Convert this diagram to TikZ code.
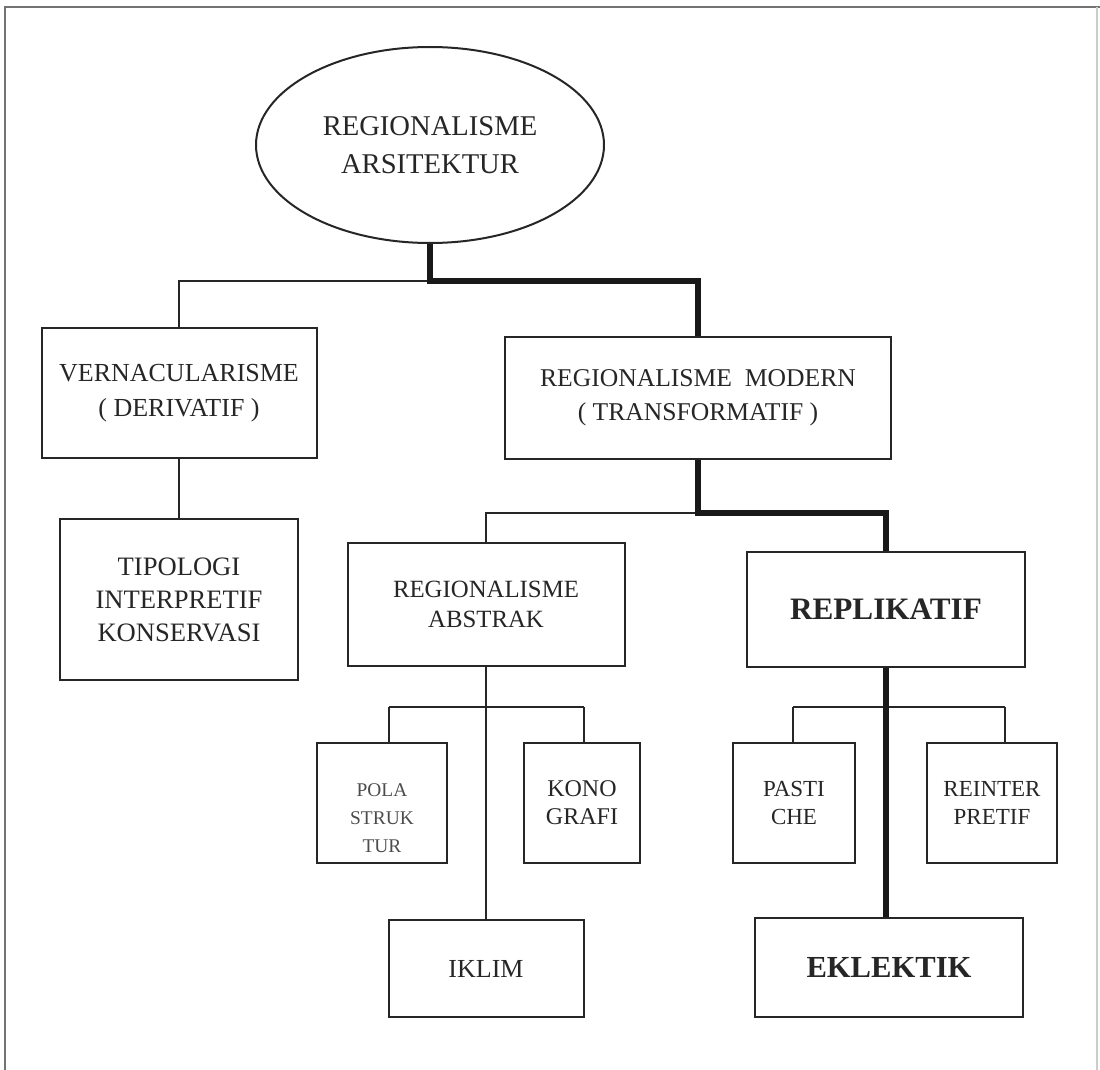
\documentclass[tikz,border=0pt]{standalone}
\usepackage{fontspec}
\setmainfont{Liberation Serif}
\usetikzlibrary{shapes.geometric}

\begin{document}
\begin{tikzpicture}[x=0.5pt,y=-0.5pt,
  box/.style={draw=black!85, line width=1pt, align=center, text=black!85, inner sep=0pt},
  link/.style={black!85, line width=1pt},
  mainlink/.style={black!90, line width=2.6pt},
  bigtext/.style={font=\fontsize{13}{17.5}\selectfont},
  smalltext/.style={font=\fontsize{11.5}{14}\selectfont}]
\useasboundingbox (0,0) rectangle (1100,1070);
\draw[black!55, line width=0.8pt] (5,1070) -- (5,7) -- (1100,7);
\draw[black!20, line width=0.6pt] (1097,7) -- (1097,1070);

\node[box, ellipse, minimum width=174pt, minimum height=98pt, font=\fontsize{14.3}{19}\selectfont] (root) at (430,145) {REGIONALISME\\ARSITEKTUR};
\node[box, bigtext, minimum width=137.5pt, minimum height=65pt] (vern) at (179,393) {VERNACULARISME\\( DERIVATIF )};
\node[box, font=\fontsize{13.3}{16.5}\selectfont, minimum width=119pt, minimum height=80.5pt] (tipo) at (179,599.5) {TIPOLOGI\\INTERPRETIF\\KONSERVASI};
\node[box, font=\fontsize{12.8}{17}\selectfont, minimum width=193pt, minimum height=61pt] (modern) at (698,398) {REGIONALISME~ MODERN\\( TRANSFORMATIF )};
\node[box, font=\fontsize{12.4}{15}\selectfont, minimum width=138.5pt, minimum height=61.5pt] (abstrak) at (486,604.5) {REGIONALISME\\ABSTRAK};
\node[box, font=\bfseries\fontsize{15.6}{19}\selectfont, minimum width=139pt, minimum height=57.5pt] (replik) at (886,609.5) {REPLIKATIF};
\node[box, minimum width=65pt, minimum height=60pt,
  label={[text=black!70, font=\fontsize{9.7}{14}\selectfont, align=center, yshift=-7.5pt]center:POLA\\STRUK\\TUR}] (pola) at (382,803) {};
\node[box, font=\fontsize{12}{14}\selectfont, minimum width=58pt, minimum height=60pt] (kono) at (582,803) {KONO\\GRAFI};
\node[box, bigtext, minimum width=97.5pt, minimum height=48.5pt] (iklim) at (486,968.5) {IKLIM};
\node[box, smalltext, minimum width=61pt, minimum height=60pt] (pastiche) at (794,803) {PASTI\\CHE};
\node[box, smalltext, minimum width=65pt, minimum height=60pt] (reinter) at (992,803) {REINTER\\PRETIF};
\node[box, font=\bfseries\fontsize{15.3}{19}\selectfont, minimum width=134pt, minimum height=49.5pt] (eklektik) at (889,967.5) {EKLEKTIK};

\coordinate (rj) at (430,281);
\coordinate (mj) at (698,513);
\coordinate (al) at (389,707);
\coordinate (ar) at (584,707);
\coordinate (pl) at (793,707);
\coordinate (pr) at (1005,707);

\draw[link] (rj) -| (vern.north);
\draw[link] (vern.south) -- (tipo.north);
\draw[mainlink] (root.south) -- (rj) -| (modern.north);
\draw[link] (mj) -| (abstrak.north);
\draw[mainlink] (modern.south) -- (mj) -| (replik.north);
\draw[link] (abstrak.south) -- (abstrak.south |- iklim.north);
\draw[link] (al) -- (ar);
\draw[link] (al) -- (al |- pola.north);
\draw[link] (ar) -- (ar |- kono.north);
\draw[link] (pl) -- (pr);
\draw[link] (pl) -- (pl |- pastiche.north);
\draw[link] (pr) -- (pr |- reinter.north);
\draw[mainlink] (replik.south) -- (replik.south |- eklektik.north);
\end{tikzpicture}
\end{document}
